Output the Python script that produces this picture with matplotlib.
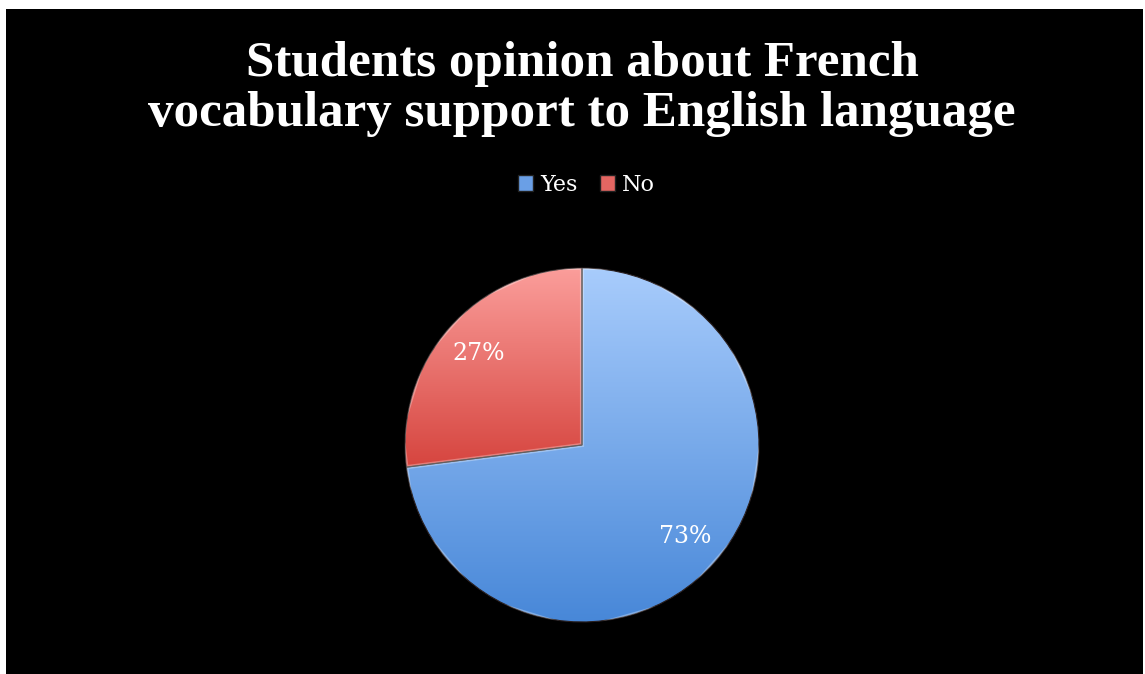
import matplotlib
matplotlib.use("Agg")
import matplotlib.pyplot as plt
import numpy as np
from matplotlib.colors import LinearSegmentedColormap
from matplotlib.patches import Patch, Rectangle

# survey answers
labels = ["Yes", "No"]
shares = [73, 27]
top_colors = ["#a8ccfc", "#fb9e9b"]
bottom_colors = ["#4787d8", "#d6453f"]

fig = plt.figure(figsize=(11.45, 6.74), dpi=100, facecolor="white")

# black chart area inside a thin white margin
fig.patches.append(Rectangle((6 / 1145, 0), 1137 / 1145, 665 / 674,
                             transform=fig.transFigure, facecolor="black",
                             edgecolor="none", zorder=-10))

ax = fig.add_axes([0.3537, 0.0772, 0.3092, 0.5252])
ax.set_facecolor("none")

wedges, texts, autotexts = ax.pie(
    shares, startangle=90, counterclock=False, radius=1.0,
    autopct="%1.0f%%", pctdistance=0.78,
    wedgeprops=dict(edgecolor="#2a2020", linewidth=0.8),
    textprops=dict(color="white", family="DejaVu Serif", fontsize=17))

# vertical gradient on each wedge, light at top and darker at the bottom
for w, c_top, c_bot in zip(wedges, top_colors, bottom_colors):
    w.set_facecolor("none")
    verts = w.get_path().vertices
    y0, y1 = verts[:, 1].min(), verts[:, 1].max()
    grad = np.linspace(0, 1, 256).reshape(-1, 1)
    cmap = LinearSegmentedColormap.from_list("g", [c_bot, c_top])
    im = ax.imshow(grad, cmap=cmap, origin="lower", aspect="auto",
                   extent=(-1, 1, y0, y1), zorder=1, interpolation="bicubic")
    im.set_clip_path(w)
    w.set_zorder(2)

# soft bevel highlight along the slice edges
for w in wedges:
    rim = plt.Polygon(w.get_path().vertices, closed=True, fill=False,
                      edgecolor="white", linewidth=3, alpha=0.3, zorder=2)
    ax.add_patch(rim)
    rim.set_clip_path(w)

for t in autotexts:
    t.set_zorder(3)

ax.set_xlim(-1.0, 1.0)
ax.set_ylim(-1.0, 1.0)
ax.set_aspect("equal")
ax.axis("off")

fig.text(0.5083, 1 - 89 / 674,
         "Students opinion about French\nvocabulary support to English language",
         ha="center", va="center", color="white", family="Liberation Serif",
         fontweight="bold", fontsize=36.7, linespacing=1.12)

handles = [Patch(facecolor=c, edgecolor="#222222") for c in ["#6a9fe6", "#e46662"]]
fig.legend(handles, labels, loc="center", bbox_to_anchor=(0.512, 1 - 185 / 674),
           ncol=2, frameon=False, handlelength=0.7, handleheight=0.7,
           handletextpad=0.3, columnspacing=1.0,
           prop=dict(family="DejaVu Serif", size=16), labelcolor="white")

fig.savefig("out.png", dpi=100, facecolor="white")
